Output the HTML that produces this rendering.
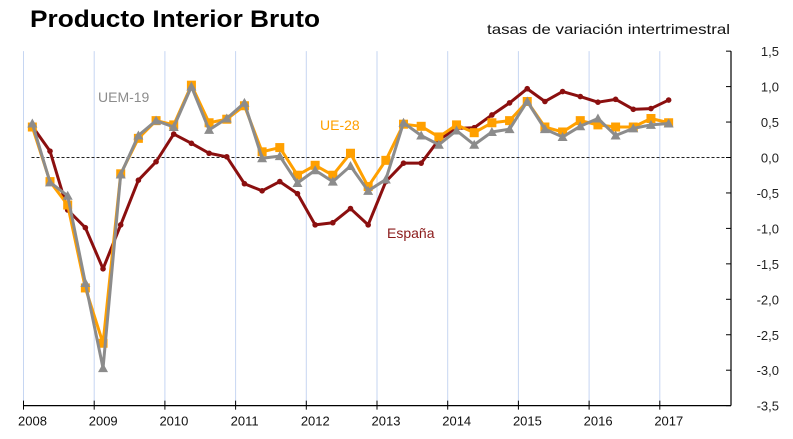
<!DOCTYPE html>
<html><head><meta charset="utf-8"><style>
html,body{margin:0;padding:0;background:#fff;}
svg{display:block;font-family:"Liberation Sans",sans-serif;}
</style></head><body>
<svg id="chart" width="793" height="439" viewBox="0 0 793 439">
<text x="30" y="27" font-size="24" font-weight="bold" fill="#000" textLength="290" lengthAdjust="spacingAndGlyphs">Producto Interior Bruto</text>
<text x="487" y="34" font-size="14" fill="#111" textLength="243" lengthAdjust="spacingAndGlyphs">tasas de variación intertrimestral</text>
<g id="grid"></g><g id="axes"></g><g id="series"></g>
<text x="98" y="102" font-size="14" fill="#8c8c8c">UEM-19</text>
<text x="320" y="130" font-size="14" fill="#ffa000">UE-28</text>
<text x="387" y="238" font-size="14" fill="#8b1a1a">España</text>
</svg>
<script>
const years = ["2008","2009","2010","2011","2012","2013","2014","2015","2016","2017"];
const yTicks = [1.5,1.0,0.5,0.0,-0.5,-1.0,-1.5,-2.0,-2.5,-3.0,-3.5];
const espana = [0.44,0.09,-0.74,-0.99,-1.57,-0.95,-0.32,-0.06,0.33,0.20,0.06,0.01,-0.37,-0.47,-0.34,-0.51,-0.95,-0.92,-0.72,-0.95,-0.34,-0.08,-0.08,0.25,0.41,0.42,0.60,0.77,0.97,0.79,0.93,0.86,0.78,0.82,0.68,0.69,0.81];
const ue28 = [0.43,-0.34,-0.67,-1.84,-2.62,-0.23,0.27,0.52,0.46,1.02,0.49,0.54,0.73,0.08,0.14,-0.25,-0.11,-0.25,0.06,-0.41,-0.04,0.47,0.44,0.29,0.46,0.35,0.49,0.52,0.79,0.43,0.36,0.52,0.46,0.43,0.43,0.55,0.49];
const uem19 = [0.48,-0.35,-0.54,-1.77,-2.97,-0.24,0.31,0.52,0.43,1.00,0.39,0.55,0.77,-0.01,0.02,-0.36,-0.18,-0.34,-0.12,-0.47,-0.31,0.49,0.31,0.18,0.38,0.18,0.36,0.40,0.79,0.40,0.29,0.44,0.55,0.31,0.41,0.46,0.48];

const NS="http://www.w3.org/2000/svg";
const x0=23.5, yearW=70.7, q=yearW/4;
const xQ=i=>x0+(i+0.5)*q;
const xYear=i=>x0+i*yearW;
const yV=v=>157.5-v*70.9;
function mk(tag,attrs,parent){const e=document.createElementNS(NS,tag);for(const k in attrs)e.setAttribute(k,attrs[k]);parent.appendChild(e);return e;}
const gridG=document.getElementById('grid'), axesG=document.getElementById('axes'), serG=document.getElementById('series');
const axisX=731, yTop=yV(1.5), yBot=yV(-3.5);
years.forEach((y,i)=>{
  const gx=xYear(i);
  const l=mk('line',{x1:gx,x2:gx,y1:yTop,y2:yBot,stroke:'#c6d6f2','stroke-width':1},gridG);
  
  
  const t=mk('line',{x1:gx,x2:gx,y1:yBot-5,y2:yBot+4,stroke:'#000','stroke-width':1},axesG);
  
  
  const tx=mk('text',{x:gx+9,y:yBot+20,'font-size':13,'text-anchor':'middle',fill:'#111'},axesG);
  tx.textContent=y;
  
  
});
const zl=mk('line',{x1:xYear(0)+8,x2:axisX-6,y1:yV(0),y2:yV(0),stroke:'#222','stroke-width':1,'stroke-dasharray':'3,2'},gridG);


const xa=mk('line',{x1:xYear(0),x2:axisX,y1:yBot,y2:yBot,stroke:'#000','stroke-width':1.2},axesG);


const ya=mk('line',{x1:axisX,x2:axisX,y1:yTop,y2:yBot,stroke:'#000','stroke-width':1.2},axesG);


yTicks.forEach(v=>{
  const yy=yV(v);
  const t=mk('line',{x1:axisX-5,x2:axisX,y1:yy,y2:yy,stroke:'#000'},axesG);
  
  
  const tx=mk('text',{x:779,y:yy+5,'font-size':13,'text-anchor':'end',fill:'#222'},axesG);
  tx.textContent=v.toFixed(1).replace('.',',');
  
  
});
function drawLine(data,color,name,w){
  const p=mk('polyline',{points:data.map((v,i)=>xQ(i)+','+yV(v)).join(' '),fill:'none',stroke:color,'stroke-width':w,'stroke-linejoin':'round'},serG);
  
  
}
drawLine(espana,'#8b0f0f','espana',3);
espana.forEach((v,i)=>{const c=mk('circle',{cx:xQ(i),cy:yV(v),r:2.8,fill:'#8b0f0f'},serG);
  
  });
drawLine(ue28,'#ffa000','ue28',3);
ue28.forEach((v,i)=>{const r=mk('rect',{x:xQ(i)-4.5,y:yV(v)-4.5,width:9,height:9,fill:'#ffa000'},serG);
  
  });
drawLine(uem19,'#8c8c8c','uem19',3);
uem19.forEach((v,i)=>{const x=xQ(i),y=yV(v);const t=mk('polygon',{points:`${x},${y-5} ${x-5},${y+4} ${x+5},${y+4}`,fill:'#8c8c8c'},serG);
  
  });
</script>
</body></html>
